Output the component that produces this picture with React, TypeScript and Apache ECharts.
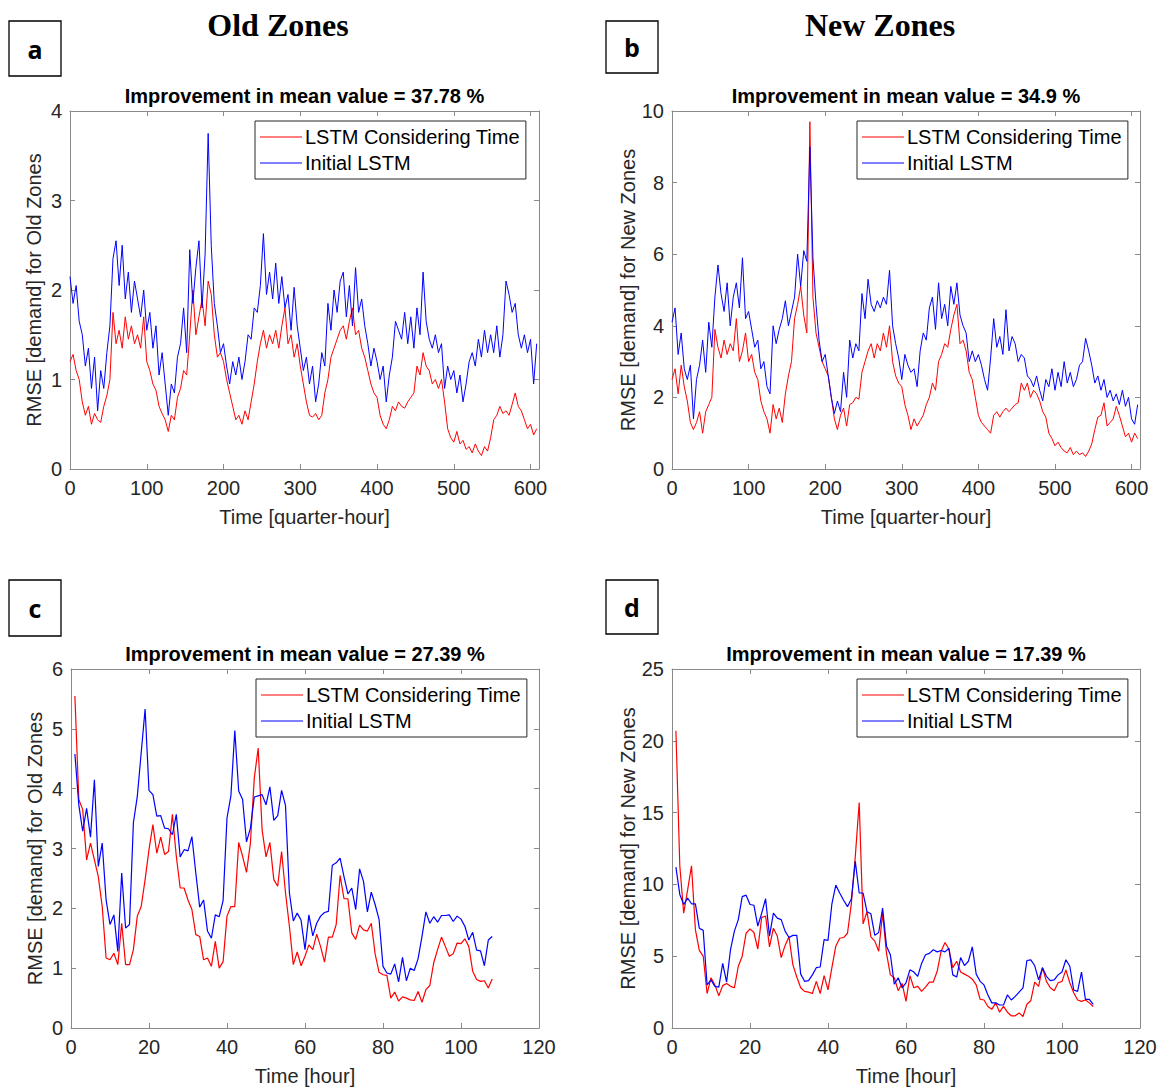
import React, { useEffect, useRef } from "react";
import * as echarts from "echarts";

const seriesNames = ["LSTM Considering Time", "Initial LSTM"];
const panelTitles = [
  "Improvement in mean value = 37.78 %",
  "Improvement in mean value = 34.9 %",
  "Improvement in mean value = 27.39 %",
  "Improvement in mean value = 17.39 %",
];
const headings = ["Old Zones", "New Zones"];
const panelLetters = ["a", "b", "c", "d"];
const yNames = [
  "RMSE [demand] for Old Zones",
  "RMSE [demand] for New Zones",
  "RMSE [demand] for Old Zones",
  "RMSE [demand] for New Zones",
];
const xNames = ["Time [quarter-hour]", "Time [quarter-hour]", "Time [hour]", "Time [hour]"];
const xMaxes = [611, 611, 120, 120];
const xSteps = [100, 100, 20, 20];
const yMaxes = [4, 10, 6, 25];
const ySteps = [1, 2, 1, 5];

// x positions: quarter-hours (every 4th sample) and hours
const topQ = Array.from({ length: 153 }, (_, i) => i * 4);
const hours = Array.from({ length: 108 }, (_, i) => i + 1);

// Panel a (Old Zones, quarter-hour)
const aTime = [
  1.2, 1.28, 1.1, 1.0, 0.75, 0.6, 0.7, 0.5, 0.62, 0.55,
  0.52, 0.7, 0.82, 1.0, 1.75, 1.4, 1.55, 1.35, 1.7, 1.45,
  1.6, 1.4, 1.5, 1.35, 1.7, 1.2, 1.1, 0.95, 0.88, 0.7,
  0.62, 0.55, 0.42, 0.6, 0.55, 0.8, 0.9, 1.1, 1.05, 1.5,
  2.0, 1.5, 1.7, 1.9, 1.6, 2.1, 1.95, 1.5, 1.25, 1.3,
  1.2, 1.0, 0.85, 0.7, 0.55, 0.6, 0.5, 0.65, 0.55, 0.75,
  0.95, 1.2, 1.4, 1.55, 1.35, 1.5, 1.4, 1.55, 1.35, 1.6,
  1.8, 1.4, 1.5, 1.25, 1.4, 1.15, 0.95, 0.75, 0.6, 0.58,
  0.62, 0.55, 0.6, 0.85, 1.0, 1.25, 1.35, 1.45, 1.55, 1.6,
  1.45, 1.65, 1.8, 1.5, 1.55, 1.35, 1.25, 1.1, 0.95, 0.85,
  0.8, 0.6, 0.5, 0.45, 0.55, 0.7, 0.65, 0.75, 0.7, 0.68,
  0.75, 0.8, 0.85, 1.15, 1.05, 1.3, 1.15, 1.1, 0.95, 1.0,
  0.9, 1.0, 0.75, 0.45, 0.35, 0.3, 0.42, 0.28, 0.32, 0.22,
  0.25, 0.18, 0.28, 0.2, 0.15, 0.25, 0.2, 0.35, 0.55, 0.6,
  0.7, 0.62, 0.65, 0.6, 0.72, 0.85, 0.7, 0.65, 0.55, 0.45,
  0.5, 0.38, 0.45,
];
const aInit = [
  2.15, 1.85, 2.05, 1.65, 1.5, 1.15, 1.35, 0.9, 1.25, 0.65,
  1.1, 0.9, 1.3, 1.6, 2.35, 2.55, 2.05, 2.5, 1.9, 2.2,
  1.75, 2.1, 1.9, 1.7, 2.0, 1.55, 1.75, 1.35, 1.6, 1.05,
  1.3, 0.95, 0.6, 0.95, 0.85, 1.25, 1.4, 1.8, 1.3, 2.45,
  1.85, 2.25, 2.55, 1.8, 2.4, 3.75, 2.5, 1.85, 1.6, 1.3,
  1.4, 1.15, 0.95, 1.2, 1.05, 1.25, 1.0, 1.2, 1.5, 1.45,
  1.8, 1.75, 2.05, 2.63, 1.95, 2.2, 1.9, 2.3, 1.85, 2.15,
  1.8, 1.95, 1.55, 2.03, 1.6, 1.35, 1.1, 1.25, 0.95, 1.15,
  0.75, 0.95, 1.3, 1.15, 1.85, 1.55, 2.0, 1.75, 2.1, 2.2,
  1.7, 2.05, 1.6, 2.25, 1.75, 1.9, 1.6, 1.4, 1.15, 1.35,
  1.2, 1.0, 1.15, 0.75, 1.05, 1.25, 1.65, 1.55, 1.45, 1.75,
  1.4, 1.7, 1.35, 1.8, 1.5, 2.2, 1.65, 1.45, 1.35, 1.5,
  1.3, 1.4, 0.9, 1.15, 1.0, 1.1, 0.85, 1.05, 0.75, 0.95,
  1.2, 1.3, 1.15, 1.45, 1.25, 1.55, 1.3, 1.5, 1.3, 1.6,
  1.25, 1.5, 2.1, 1.95, 1.75, 1.85, 1.5, 1.35, 1.5, 1.3,
  1.45, 0.95, 1.4,
];

// Panel b (New Zones, quarter-hour)
const bTime = [
  2.5, 2.8, 2.1, 2.9, 2.3, 1.9, 1.3, 1.1, 1.3, 1.6,
  1.0, 1.6, 1.8, 2.0, 3.9, 3.4, 3.1, 3.6, 3.2, 3.5,
  3.3, 4.2, 3.0, 3.3, 3.8, 3.0, 3.2, 2.7, 2.5, 1.9,
  1.6, 1.4, 1.0, 1.8, 1.4, 1.7, 1.3, 2.1, 2.6, 3.0,
  4.2, 4.6, 5.1, 4.3, 3.8, 9.7, 4.8, 3.8, 3.4, 3.0,
  2.8, 2.6, 2.0, 1.4, 1.1, 1.5, 1.7, 1.2, 1.8, 1.85,
  2.0, 1.95, 2.7, 3.0, 3.3, 3.5, 3.1, 3.5, 3.3, 3.8,
  3.4, 4.0, 3.0, 2.6, 2.4, 2.3, 1.8, 1.5, 1.1, 1.4,
  1.2, 1.35, 1.5, 1.8, 2.0, 2.4, 2.2, 3.0, 3.2, 3.5,
  3.4, 3.9, 4.3, 4.6, 3.5, 3.6, 3.3, 2.7, 2.5, 2.0,
  1.5, 1.3, 1.2, 1.1, 1.0, 1.5, 1.6, 1.45, 1.6, 1.7,
  1.6, 1.7, 1.8, 1.85, 2.4, 2.2, 2.4, 2.0, 2.2, 2.1,
  1.9, 1.6, 1.45, 1.0, 0.85, 0.65, 0.75, 0.6, 0.5, 0.45,
  0.6, 0.4, 0.5, 0.4, 0.45, 0.35, 0.5, 0.7, 1.1, 1.45,
  1.5, 1.85, 1.2, 1.3, 1.4, 1.75, 1.5, 1.2, 0.9, 1.0,
  0.75, 1.0, 0.85,
];
const bInit = [
  4.1, 4.5, 3.2, 3.8, 2.8, 2.5, 2.9, 1.4, 2.5, 2.9,
  3.6, 2.7, 4.1, 3.4, 4.8, 5.7, 4.9, 4.4, 5.2, 4.0,
  4.8, 5.2, 4.5, 5.9, 4.2, 4.4, 3.9, 3.4, 3.6, 2.8,
  3.0, 2.3, 2.1, 4.0, 3.5, 3.9, 4.2, 4.7, 4.0, 4.4,
  4.8, 6.0, 5.1, 6.1, 5.8, 9.0, 5.9, 4.6, 3.6, 3.0,
  3.2, 2.6, 2.0, 1.55, 1.9, 1.6, 2.7, 2.0, 3.6, 3.1,
  3.5, 3.3, 4.9, 4.2, 5.3, 4.6, 4.4, 4.7, 4.5, 4.8,
  4.6, 5.55, 4.0, 3.5, 3.1, 2.5, 3.2, 2.9, 2.7, 2.8,
  2.3, 3.3, 3.8, 3.6, 4.5, 4.8, 3.9, 5.2, 4.2, 4.6,
  4.0, 5.1, 4.6, 5.2, 4.3, 4.0, 3.8, 3.0, 3.3, 3.0,
  3.2, 2.9, 2.5, 2.2, 3.1, 4.2, 3.4, 3.7, 3.2, 4.45,
  3.3, 3.7, 3.5, 3.0, 3.2, 3.1, 2.6, 2.5, 2.3, 2.6,
  2.2, 1.9, 2.5, 2.3, 2.8, 2.2, 2.7, 2.3, 3.0, 2.4,
  2.7, 2.3, 2.5, 2.9, 3.0, 3.65, 3.3, 2.9, 2.4, 2.6,
  2.2, 2.5, 2.0, 2.2, 1.9, 2.1, 1.8, 2.2, 1.75, 2.0,
  1.4, 1.25, 1.8,
];

// Panel c (Old Zones, hour)
const cTime = [
  5.55, 3.82, 3.65, 2.81, 3.09, 2.81, 2.53, 2.03, 1.17, 1.14,
  1.25, 1.06, 1.75, 1.06, 1.06, 1.31, 1.87, 2.03, 2.48, 2.98,
  3.4, 2.92, 3.19, 2.9, 2.95, 3.57, 2.87, 2.34, 2.34, 2.14,
  1.98, 1.56, 1.53, 1.14, 1.17, 1.03, 1.45, 1.0, 1.11, 1.87,
  2.03, 2.03, 3.1, 2.87, 2.6, 3.09, 4.18, 4.68, 3.31, 2.86,
  3.1, 2.48, 2.37, 2.95, 2.26, 1.7, 1.06, 1.27, 1.04, 1.2,
  1.39, 1.31, 1.57, 1.36, 1.1, 1.52, 1.52, 1.73, 2.55, 2.16,
  2.16, 1.59, 1.48, 1.72, 1.64, 1.62, 1.75, 1.23, 0.93, 0.89,
  0.88, 0.5, 0.6, 0.45, 0.52, 0.5, 0.47, 0.46, 0.61, 0.43,
  0.64, 0.71, 1.09, 1.31, 1.52, 1.36, 1.2, 1.24, 1.42, 1.41,
  1.49, 1.36, 0.95, 0.81, 0.78, 0.79, 0.67, 0.82,
];
const cInit = [
  4.58, 3.73, 3.29, 3.67, 3.19, 4.15, 2.7, 3.09, 2.14, 1.73,
  1.89, 1.28, 2.59, 1.67, 1.73, 3.43, 3.87, 4.6, 5.33, 3.97,
  3.9, 3.54, 3.55, 3.34, 3.33, 3.23, 3.57, 2.86, 2.98, 2.96,
  3.2, 2.59, 2.02, 2.14, 1.62, 1.5, 1.89, 1.86, 2.13, 3.51,
  3.88, 4.97, 3.96, 3.82, 3.11, 3.34, 3.86, 3.88, 3.9, 3.73,
  4.03, 3.47, 3.55, 3.97, 3.72, 2.26, 1.79, 1.92, 1.8, 1.31,
  1.89, 1.54, 1.75, 1.87, 1.93, 1.95, 2.72, 2.76, 2.84, 2.53,
  2.24, 2.34, 1.98, 2.66, 2.45, 1.94, 2.27, 2.06, 1.81, 1.03,
  0.92, 0.9, 1.07, 0.77, 1.18, 0.79, 1.0, 0.96, 1.16, 1.53,
  1.94, 1.75, 1.86, 1.77, 1.88, 1.88, 1.89, 1.78, 1.87, 1.82,
  1.7, 1.47, 1.6, 1.3, 1.29, 1.04, 1.47, 1.53,
];

// Panel d (New Zones, hour)
const dTime = [
  20.7, 11.3, 8.0, 9.6, 11.3, 6.85, 5.4, 5.0, 2.4, 3.5,
  3.0, 2.25, 2.95, 3.1, 2.9, 2.8, 4.3, 5.0, 6.6, 6.9,
  6.65, 5.5, 7.7, 7.8, 5.65, 6.95, 6.4, 4.9, 5.75, 6.35,
  4.4, 3.55, 2.8, 2.55, 2.5, 2.4, 3.25, 2.4, 3.65, 2.65,
  4.2, 5.7, 6.25, 6.3, 6.6, 8.7, 11.95, 15.7, 7.25, 8.1,
  6.35, 6.05, 5.35, 8.0, 5.2, 3.7, 3.5, 2.6, 3.1, 1.85,
  3.65, 2.8, 2.9, 2.55, 2.85, 3.2, 3.2, 3.95, 5.35, 5.95,
  5.5, 4.2, 4.65, 3.9, 3.75, 3.6, 3.4, 3.0, 2.0, 1.95,
  1.5, 1.3, 1.75, 1.1, 1.5, 1.1, 0.85, 0.85, 1.05, 0.8,
  1.65, 1.9, 3.2, 2.9, 4.2, 3.25, 2.8, 2.6, 3.15, 3.25,
  4.05, 3.15, 2.45, 1.95, 1.85, 1.95, 1.75, 1.5,
];
const dInit = [
  11.2, 9.3, 8.6, 9.05, 8.65, 8.65, 6.95, 6.8, 3.0, 3.35,
  2.9, 2.85, 4.5, 3.2, 5.45, 6.75, 7.55, 9.15, 9.25, 8.6,
  8.55, 7.1, 8.0, 9.0, 6.4, 8.0, 7.65, 7.55, 6.75, 6.3,
  6.45, 6.45, 3.75, 3.25, 3.3, 3.7, 4.2, 4.25, 6.15, 6.1,
  8.65, 9.95, 9.4, 8.9, 8.45, 9.0, 11.6, 9.4, 9.4, 8.1,
  7.95, 6.45, 6.65, 8.35, 5.7, 5.1, 3.05, 3.5, 2.8, 3.15,
  4.05, 3.9, 3.6, 4.5, 5.1, 5.2, 5.45, 5.3, 5.4, 5.3,
  5.55, 3.7, 3.55, 4.9, 4.35, 4.65, 5.65, 3.75, 3.25, 3.0,
  2.3, 1.75, 1.75, 1.6, 1.6, 2.3, 1.95, 2.2, 2.5, 2.8,
  4.7, 4.75, 4.35, 3.35, 4.2, 3.6, 3.3, 3.35, 3.7, 3.9,
  4.75, 4.3, 2.65, 2.55, 3.9, 2.0, 2.0, 1.65,
];

const panelX = [topQ, topQ, hours, hours];
const panelTime = [aTime, bTime, cTime, dTime];
const panelInit = [aInit, bInit, cInit, dInit];

const grids = [
  { left: 70, top: 111, width: 469, height: 358 },
  { left: 672, top: 111, width: 468, height: 358 },
  { left: 71, top: 669, width: 468, height: 359 },
  { left: 672, top: 669, width: 468, height: 359 },
];
const letterBoxes = [
  { x: 9, y: 21, w: 52, h: 55 },
  { x: 606, y: 21, w: 52, h: 52 },
  { x: 9, y: 580, w: 52, h: 56 },
  { x: 606, y: 580, w: 52, h: 54 },
];

const AXIS_GRAY = "#8a8a8a";
const TEXT_DARK = "#262626";
const FONT = "Liberation Sans";

function buildOption() {
  const xAxis: any[] = [];
  const yAxis: any[] = [];
  const series: any[] = [];
  const legend: any[] = [];
  const graphic: any[] = [];

  grids.forEach((g, i) => {
    const xStep = xSteps[i];
    const baseX = {
      type: "value",
      gridIndex: i,
      min: 0,
      max: xMaxes[i],
      interval: xStep,
      axisLine: { show: true, onZero: false, lineStyle: { color: AXIS_GRAY, width: 1 } },
      axisTick: { show: true, inside: true, length: 5, lineStyle: { color: AXIS_GRAY } },
      splitLine: { show: false },
    };
    xAxis.push({
      ...baseX,
      position: "bottom",
      name: xNames[i],
      nameLocation: "middle",
      nameGap: 38,
      nameTextStyle: { fontFamily: FONT, fontSize: 20, color: TEXT_DARK },
      axisLabel: {
        show: true,
        margin: 9,
        fontFamily: FONT,
        fontSize: 20,
        color: TEXT_DARK,
        formatter: (v: number) => (v % xStep === 0 ? String(v) : ""),
      },
    });
    xAxis.push({ ...baseX, position: "top", axisLabel: { show: false } });

    const baseY = {
      type: "value",
      gridIndex: i,
      min: 0,
      max: yMaxes[i],
      interval: ySteps[i],
      axisLine: { show: true, onZero: false, lineStyle: { color: AXIS_GRAY, width: 1 } },
      axisTick: { show: true, inside: true, length: 5, lineStyle: { color: AXIS_GRAY } },
      splitLine: { show: false },
    };
    yAxis.push({
      ...baseY,
      position: "left",
      name: yNames[i],
      nameLocation: "middle",
      nameGap: 26,
      nameTextStyle: { fontFamily: FONT, fontSize: 20, color: TEXT_DARK },
      axisLabel: { show: true, margin: 8, fontFamily: FONT, fontSize: 20, color: TEXT_DARK },
    });
    yAxis.push({ ...baseY, position: "right", axisLabel: { show: false } });

    const xs = panelX[i];
    const lw = i < 2 ? 1 : 1.2;
    series.push({
      type: "line",
      name: seriesNames[0],
      xAxisIndex: 2 * i,
      yAxisIndex: 2 * i,
      data: xs.map((x, k) => [x, panelTime[i][k]]),
      showSymbol: false,
      symbol: "none",
      lineStyle: { color: "#ff0000", width: lw },
      itemStyle: { color: "#ff0000" },
      z: 2,
    });
    series.push({
      type: "line",
      name: seriesNames[1],
      xAxisIndex: 2 * i,
      yAxisIndex: 2 * i,
      data: xs.map((x, k) => [x, panelInit[i][k]]),
      showSymbol: false,
      symbol: "none",
      lineStyle: { color: "#0000ff", width: lw },
      itemStyle: { color: "#0000ff" },
      z: 3,
    });

    legend.push({
      data: seriesNames,
      orient: "vertical",
      left: g.left + 185,
      top: g.top + 10,
      backgroundColor: "#ffffff",
      borderColor: TEXT_DARK,
      borderWidth: 1,
      borderRadius: 0,
      padding: [5, 6, 5, 5],
      itemGap: 4,
      itemWidth: 42,
      itemHeight: 1.2,
      icon: "rect",
      selectedMode: false,
      textStyle: { fontFamily: FONT, fontSize: 20, color: "#000", lineHeight: 22, padding: [0, 0, 0, -2] },
    });

    graphic.push({
      type: "text",
      x: g.left + g.width / 2,
      y: g.top - 15,
      style: {
        text: panelTitles[i],
        font: `bold 20px "${FONT}"`,
        fill: "#000",
        textAlign: "center",
        textVerticalAlign: "middle",
        align: "center",
        verticalAlign: "middle",
      },
    });
    const b = letterBoxes[i];
    graphic.push({
      type: "rect",
      shape: { x: b.x, y: b.y, width: b.w, height: b.h },
      style: { fill: "#ffffff", stroke: "#000", lineWidth: 1.3 },
    });
    graphic.push({
      type: "text",
      x: b.x + b.w / 2,
      y: b.y + b.h / 2,
      style: {
        text: panelLetters[i],
        font: 'bold 25px "Open Sans"',
        fill: "#000",
        textAlign: "center",
        textVerticalAlign: "middle",
        align: "center",
        verticalAlign: "middle",
      },
    });
  });

  [278, 880].forEach((cx, k) => {
    graphic.push({
      type: "text",
      x: cx,
      y: 25,
      style: {
        text: headings[k],
        font: 'bold 32px "Liberation Serif"',
        fill: "#000",
        textAlign: "center",
        textVerticalAlign: "middle",
        align: "center",
        verticalAlign: "middle",
      },
    });
  });

  return {
    animation: false,
    backgroundColor: "#ffffff",
    grid: grids.map((g) => ({ ...g, show: false, containLabel: false })),
    xAxis,
    yAxis,
    legend,
    series,
    graphic,
  };
}

export default function App() {
  const ref = useRef<HTMLDivElement>(null);
  useEffect(() => {
    if (!ref.current) return;
    const chart = echarts.init(ref.current, undefined, { renderer: "svg" });
    chart.setOption(buildOption() as any);
    return () => chart.dispose();
  }, []);
  return (
    <div
      ref={ref}
      style={{ position: "fixed", left: 0, top: 0, width: 1165, height: 1091, background: "#fff" }}
    />
  );
}
